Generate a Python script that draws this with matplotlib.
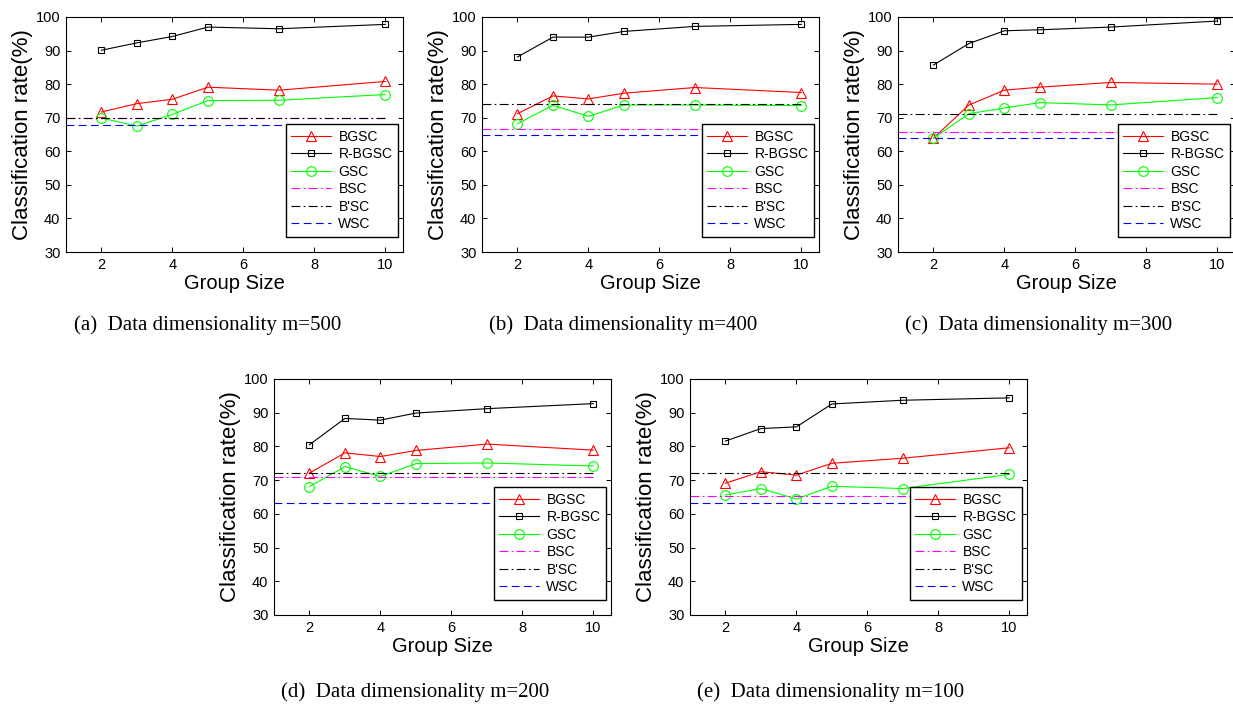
import numpy as np
import matplotlib
matplotlib.use("Agg")
import matplotlib.pyplot as plt

plt.rcParams['font.family'] = ['Liberation Sans', 'DejaVu Sans']

# group sizes on x axis
group_size = [2, 3, 4, 5, 7, 10]

# data (classification rate %)
# (a) m=500
bgsc_500 = [71.7, 74.2, 75.5, 79.1, 78.2, 80.8]
rbgsc_500 = [90.1, 92.3, 94.2, 97.0, 96.5, 97.8]
gsc_500 = [69.9, 67.5, 71.0, 75.1, 75.2, 76.9]
bsc_500 = 70.0
bpsc_500 = 70.0
wsc_500 = 67.9
# (b) m=400
bgsc_400 = [71.2, 76.5, 75.6, 77.3, 79.0, 77.5]
rbgsc_400 = [88.1, 94.0, 94.0, 95.7, 97.2, 97.8]
gsc_400 = [68.2, 73.7, 70.4, 73.8, 73.8, 73.6]
bsc_400 = 66.7
bpsc_400 = 74.0
wsc_400 = 64.9
# (c) m=300
bgsc_300 = [63.9, 73.8, 78.2, 79.1, 80.5, 80.0]
rbgsc_300 = [85.7, 92.1, 95.9, 96.2, 97.0, 98.8]
gsc_300 = [63.9, 71.2, 72.9, 74.5, 73.8, 76.0]
bsc_300 = 65.7
bpsc_300 = 71.0
wsc_300 = 64.1
# (d) m=200
bgsc_200 = [72.1, 78.1, 77.0, 78.8, 80.7, 78.9]
rbgsc_200 = [80.5, 88.3, 87.8, 89.9, 91.2, 92.7]
gsc_200 = [68.1, 74.0, 71.1, 74.9, 75.1, 74.2]
bsc_200 = 70.9
bpsc_200 = 72.0
wsc_200 = 63.1
# (e) m=100
bgsc_100 = [69.1, 72.5, 71.5, 75.0, 76.5, 79.6]
rbgsc_100 = [81.6, 85.3, 85.8, 92.6, 93.7, 94.4]
gsc_100 = [65.6, 67.5, 64.4, 68.2, 67.5, 71.7]
bsc_100 = 65.2
bpsc_100 = 72.1
wsc_100 = 63.1

captions = ["(a)  Data dimensionality m=500",
            "(b)  Data dimensionality m=400",
            "(c)  Data dimensionality m=300",
            "(d)  Data dimensionality m=200",
            "(e)  Data dimensionality m=100"]

panels = [
    (bgsc_500, rbgsc_500, gsc_500, bsc_500, bpsc_500, wsc_500),
    (bgsc_400, rbgsc_400, gsc_400, bsc_400, bpsc_400, wsc_400),
    (bgsc_300, rbgsc_300, gsc_300, bsc_300, bpsc_300, wsc_300),
    (bgsc_200, rbgsc_200, gsc_200, bsc_200, bpsc_200, wsc_200),
    (bgsc_100, rbgsc_100, gsc_100, bsc_100, bpsc_100, wsc_100),
]

W, H = 1233.0, 707.0
# axes boxes in pixels: left, top, right, bottom
boxes = [(66, 17, 403, 252),
         (482, 17, 819, 252),
         (898, 17, 1235, 252),
         (274, 379, 611, 615),
         (690, 379, 1027, 615)]
# caption centers in pixels
cap_pos = [(208, 325), (623, 325), (1039, 325), (415, 692), (831, 692)]

fig = plt.figure(figsize=(W / 100, H / 100), dpi=100)

dashdot = (0, (8, 3, 1.5, 3))
dashed = (0, (7, 4))

for i in range(5):
    l, t, r, b = boxes[i]
    ax = fig.add_axes([l / W, 1 - b / H, (r - l) / W, (b - t) / H])
    bgsc, rbgsc, gsc, bsc, bpsc, wsc = panels[i]
    xs = [1, 10]

    ax.plot(group_size, bgsc, '-^', color='#ff0000', lw=0.8, ms=7,
            mfc='none', mew=0.8, label='BGSC')
    ax.plot(group_size, rbgsc, '-s', color='black', lw=0.8, ms=5,
            mfc='none', mew=0.8, label='R-BGSC')
    ax.plot(group_size, gsc, '-o', color='#00ff00', lw=0.8, ms=7,
            mfc='none', mew=0.8, label='GSC')
    ax.plot(xs, [bsc, bsc], color='#ff00ff', lw=0.8, ls=dashdot,
            label='BSC')
    ax.plot(xs, [bpsc, bpsc], color='black', lw=0.8, ls=dashdot,
            label="B'SC")
    ax.plot(xs, [wsc, wsc], color='#0000ff', lw=0.8, ls=dashed,
            label='WSC')

    ax.set_xlim(1, 10.5)
    ax.set_ylim(30, 100)
    ax.set_xticks([2, 4, 6, 8, 10])
    ax.set_yticks(np.arange(30, 101, 10))
    ax.tick_params(direction='in', top=True, right=True, length=3.5,
                   width=0.7, labelsize=10.5, pad=4)
    for s in ax.spines.values():
        s.set_linewidth(0.8)
    ax.set_xlabel('Group Size', fontsize=14.5, labelpad=2)
    ax.set_ylabel('Classification rate(%)', fontsize=16, labelpad=2)

    leg = ax.legend(loc='lower right', bbox_to_anchor=(0.985, 0.065),
                    fontsize=10, fancybox=False, edgecolor='black',
                    framealpha=1, handlelength=2.9, labelspacing=0.25,
                    borderpad=0.4, handletextpad=0.5, borderaxespad=0)
    leg.get_frame().set_linewidth(1.0)

    cx, cy = cap_pos[i]
    fig.text(cx / W, 1 - cy / H, captions[i], ha='center', va='center',
             fontsize=15, family='Liberation Serif')

fig.savefig('out.png', dpi=100)
